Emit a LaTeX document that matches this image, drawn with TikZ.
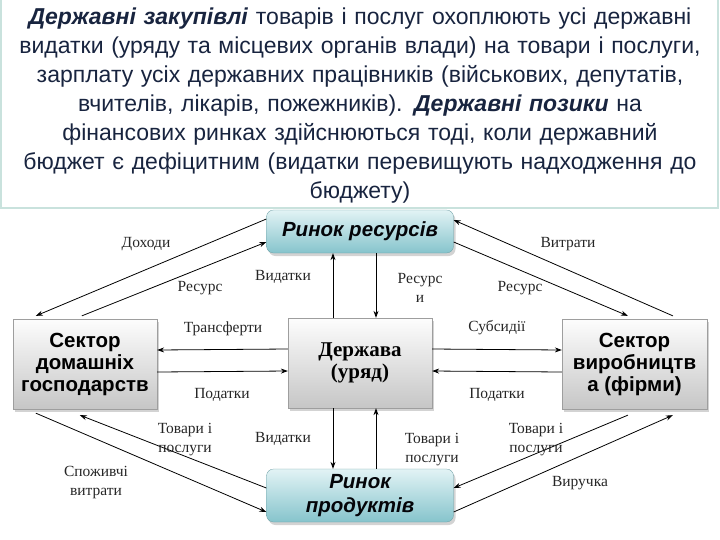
\documentclass[tikz,border=0pt]{standalone}
\usepackage{fontspec}
\setmainfont{Liberation Serif}
\setsansfont{Liberation Sans}
\usetikzlibrary{arrows.meta,shadows}
\definecolor{navy}{HTML}{18243F}
\definecolor{tealtop}{HTML}{E2F3F5}
\definecolor{tealbot}{HTML}{86C4CC}
\definecolor{graytop}{HTML}{FDFDFD}
\definecolor{graybot}{HTML}{C6C6C6}
\definecolor{frameline}{HTML}{C9E2DD}
\tikzset{
  marketbox/.style={draw=tealbot!80!black, line width=0.3pt, rounded corners=7pt,
    top color=tealtop, bottom color=tealbot, minimum width=187pt,
    drop shadow={shadow xshift=2pt, shadow yshift=-3pt, opacity=0.35},
    font=\sffamily\bfseries\itshape\fontsize{20.5}{24}\selectfont, text=black!85!navy, align=center},
  sectorbox/.style={draw=graybot!80!black, line width=0.3pt,
    top color=graytop, bottom color=graybot, minimum width=144pt, minimum height=90pt,
    drop shadow={shadow xshift=2pt, shadow yshift=-3pt, opacity=0.35},
    font=\sffamily\bfseries\fontsize{20.5}{22}\selectfont, align=center, text=black},
  lbl/.style={font=\fontsize{15.5}{19}\selectfont, align=center, text=black!85, inner sep=0pt},
  flow/.style={draw=black, line width=0.8pt, -{Stealth[length=7pt,width=5pt]}}
}
\begin{document}
\begin{tikzpicture}[x=1pt,y=-1pt]
\useasboundingbox (0,0) rectangle (720,539);
% top text panel
\draw[frameline, line width=1.5pt] (1,-3) rectangle (718,208);
\node (txt) at (360,105.5) [text width=716pt, align=center, text=navy,
  font=\sffamily\fontsize{23}{29}\selectfont, inner sep=0pt]
  {\textbf{\textit{Державні закупівлі}} товарів і послуг охоплюють усі державні\\
   видатки (уряду та місцевих органів влади) на товари і послуги,\\
   зарплату усіх державних працівників (військових, депутатів,\\
   вчителів, лікарів, пожежників). \textbf{\textit{Державні позики}} на\\
   фінансових ринках здійснюються тоді, коли державний\\
   бюджет є дефіцитним (видатки перевищують надходження до\\
   бюджету)};
% boxes
\node[marketbox, minimum height=43pt] (rr) at (360,231.5) {Ринок ресурсів};
\node[marketbox, minimum height=53pt] (rp) at (360,495.5) {Ринок\\продуктів};
\node[sectorbox] (hh) at (85,364) {Сектор\\домашніх\\господарств};
\node[sectorbox, font=\bfseries\fontsize{21}{22.5}\selectfont] (gov) at (360,363) {Держава\\(уряд)};
\node[sectorbox, minimum width=145pt] (fm) at (634.5,364) {Сектор\\виробництв\\а (фірми)};
% diagonal flows, top
\draw[flow] ([yshift=12.5pt]rr.west) -- ([xshift=23pt,yshift=3pt]hh.north west);
\draw[flow] ([xshift=69pt,yshift=3pt]hh.north west) -- ([yshift=-10.5pt]rr.west);
\draw[flow] ([xshift=111pt,yshift=3pt]fm.north west) -- ([yshift=11.5pt]rr.east);
\draw[flow] ([yshift=-10.5pt]rr.east) -- ([xshift=66pt,yshift=3pt]fm.north west);
% horizontal flows
\draw[flow] ([yshift=14pt]gov.west) -- ([yshift=14pt]hh.east);
\draw[flow] ([yshift=-8pt]hh.east) -- ([yshift=-8pt]gov.west);
\draw[flow] ([yshift=14pt]gov.east) -- ([yshift=14pt]fm.west);
\draw[flow] ([yshift=-8pt]fm.west) -- ([yshift=-8pt]gov.east);
% vertical flows
\draw[flow] ([xshift=-27pt]gov.north) -- ([xshift=-27pt]rr.south);
\draw[flow] ([xshift=16pt]rr.south) -- ([xshift=16pt]gov.north);
\draw[flow] ([xshift=-27pt]gov.south) -- ([xshift=-27pt]rp.north);
\draw[flow] ([xshift=16pt]rp.north) -- ([xshift=16pt]gov.south);
% diagonal flows, bottom
\draw[flow] ([xshift=23pt,yshift=-4pt]hh.south west) -- ([yshift=-16.5pt]rp.west);
\draw[flow] ([yshift=7.5pt]rp.west) -- ([xshift=67pt,yshift=-6pt]hh.south west);
\draw[flow] ([xshift=66pt,yshift=-6pt]fm.south west) -- ([yshift=7.5pt]rp.east);
\draw[flow] ([yshift=-16.5pt]rp.east) -- ([xshift=111pt,yshift=-6pt]fm.south west);
% labels
\node[lbl] (l1) at (146,244) {Доходи};
\node[lbl] (l2) at (200,288) {Ресурс};
\node[lbl] (l3) at (283,277) {Видатки};
\node[lbl] (l4) at (420,287.5) {Ресурс\\и};
\node[lbl] (l5) at (520,288) {Ресурс};
\node[lbl] (l6) at (568,244) {Витрати};
\node[lbl] (l7) at (223,329) {Трансферти};
\node[lbl] (l8) at (497,328) {Субсидії};
\node[lbl] (l9) at (222,395) {Податки};
\node[lbl] (l10) at (497,395) {Податки};
\node[lbl] (l11) at (185,439.5) {Товари і\\послуги};
\node[lbl] (l12) at (283,439) {Видатки};
\node[lbl] (l13) at (96,482.5) {Споживчі\\витрати};
\node[lbl] (l14) at (432,449.5) {Товари і\\послуги};
\node[lbl] (l15) at (536,439.5) {Товари і\\послуги};
\node[lbl] (l16) at (580,483) {Виручка};
\end{tikzpicture}
\end{document}
